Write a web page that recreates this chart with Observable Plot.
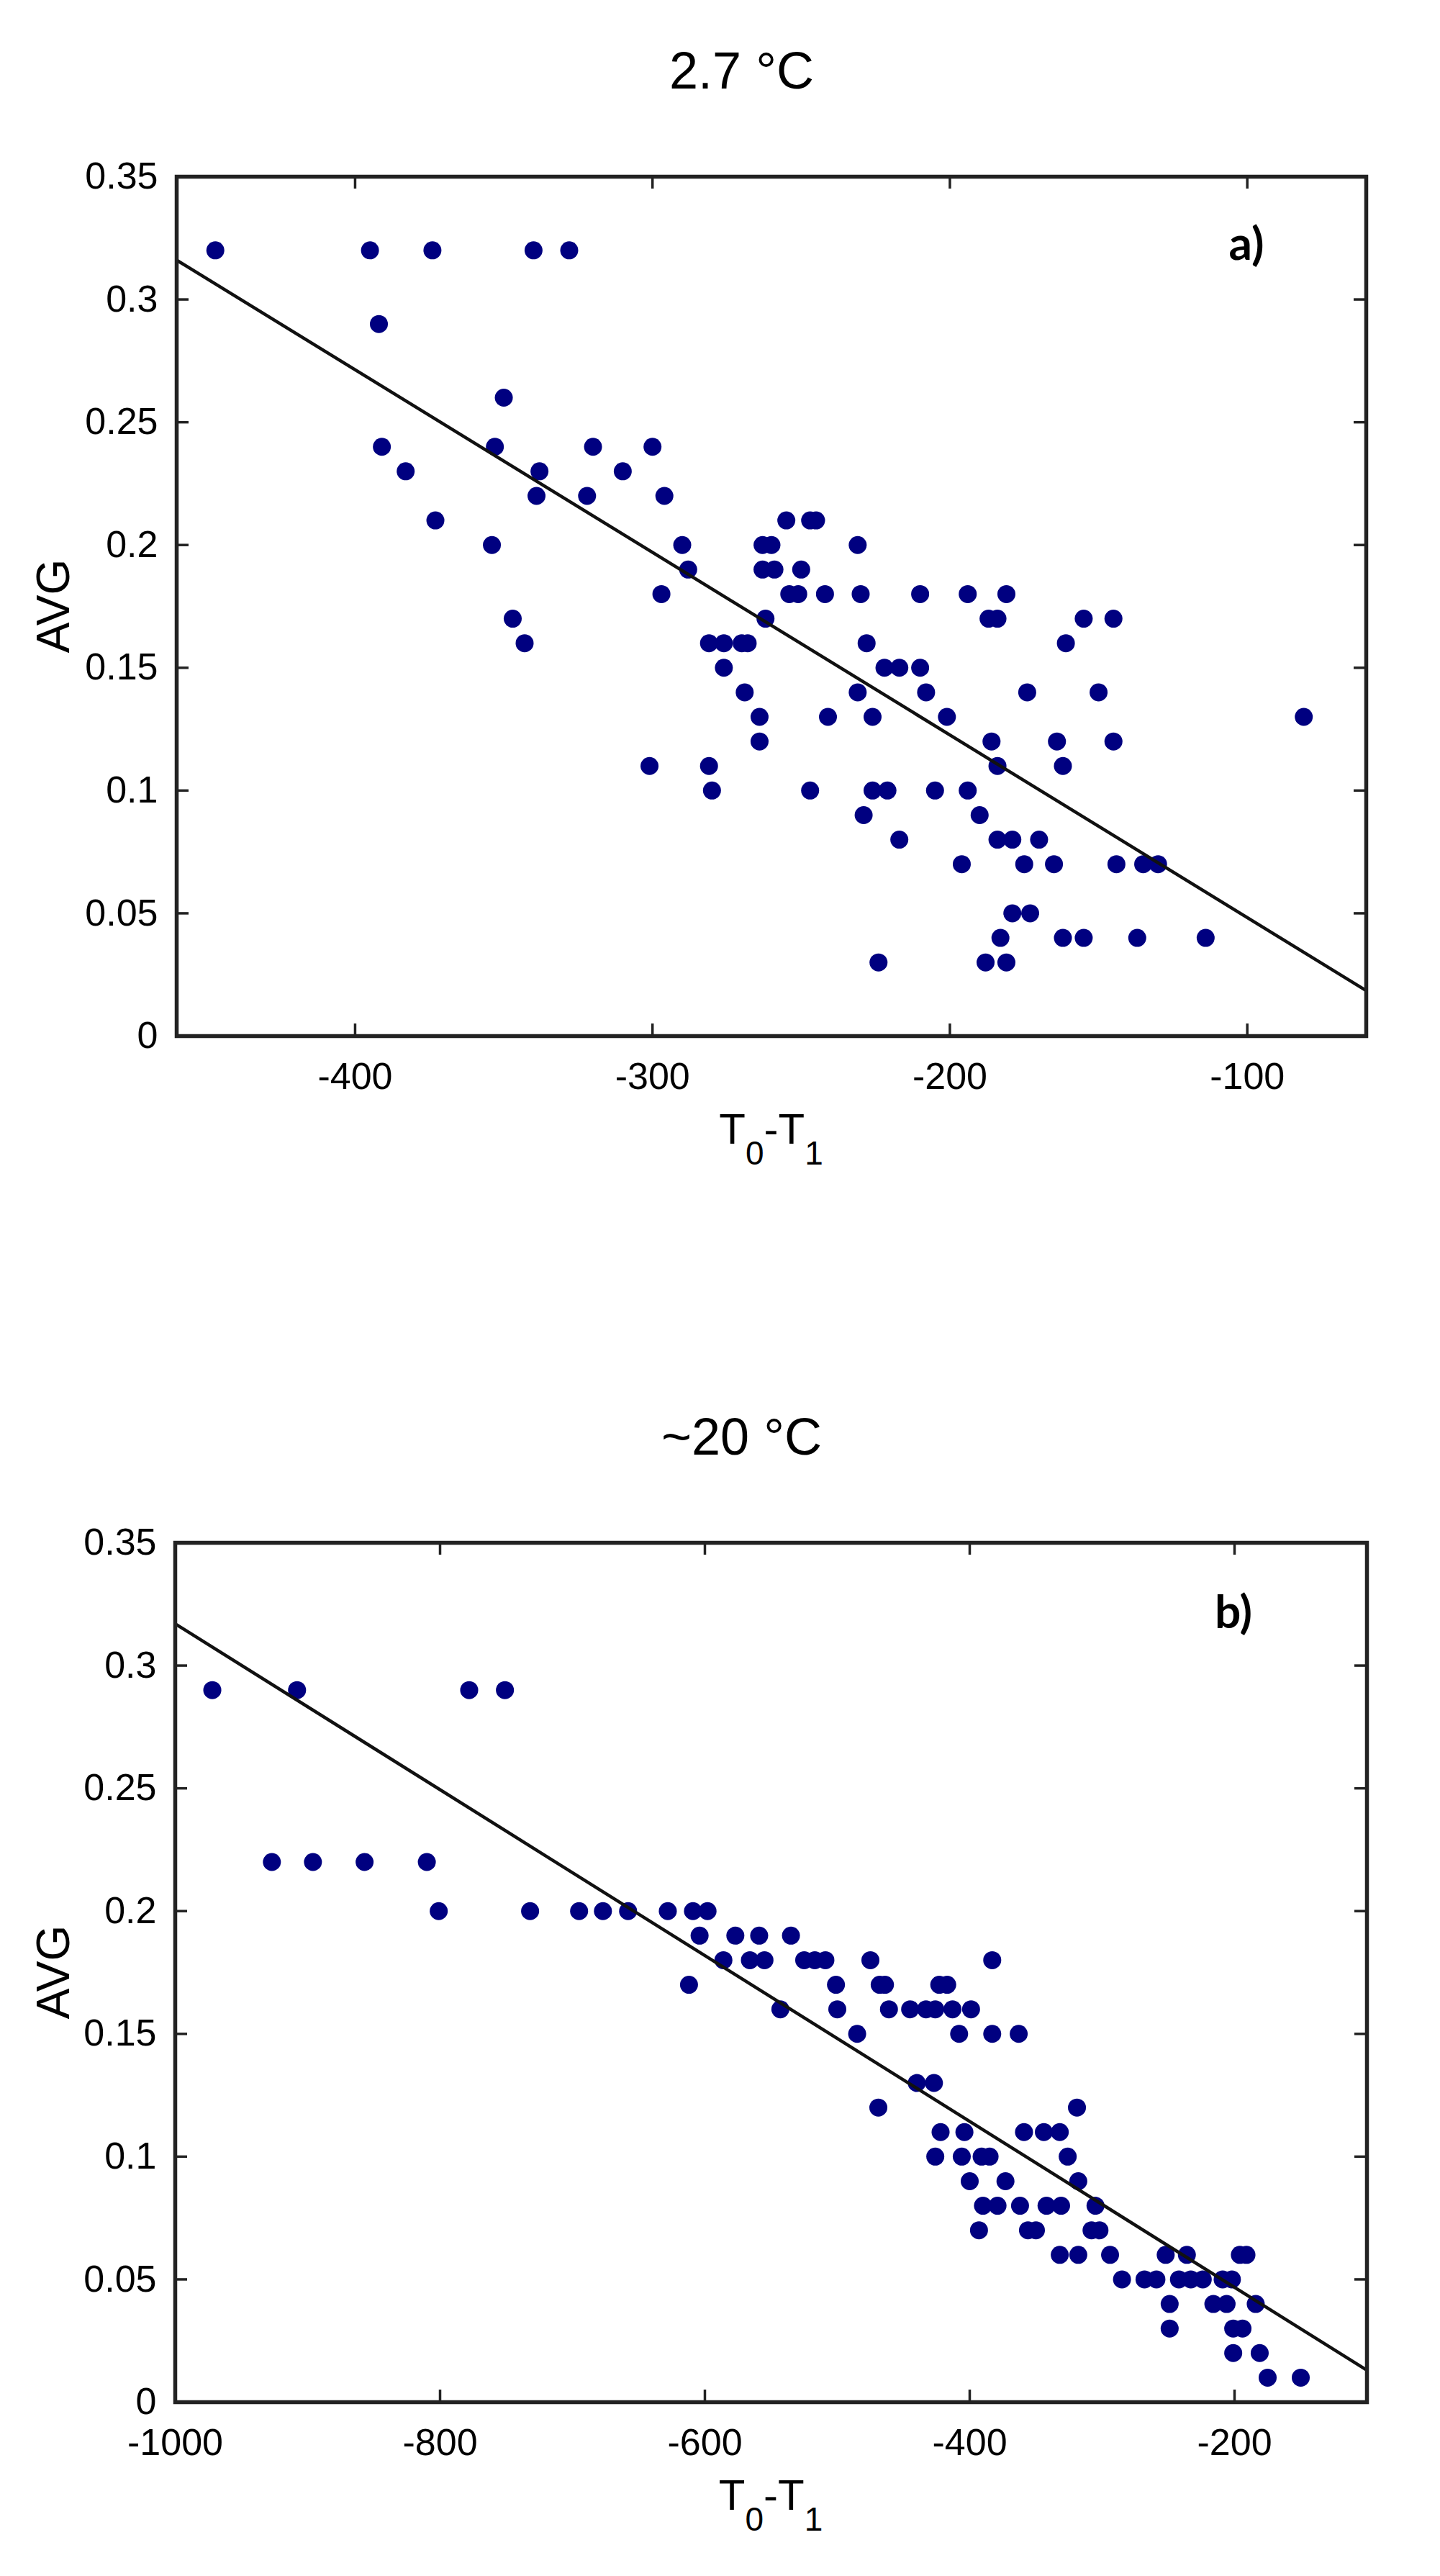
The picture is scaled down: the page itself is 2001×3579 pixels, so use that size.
<!DOCTYPE html>
<html>
<head>
<meta charset="utf-8">
<script src="https://cdn.jsdelivr.net/npm/d3@7"></script>
<script src="https://cdn.jsdelivr.net/npm/@observablehq/plot@0.6"></script>
<style>
  html, body { margin: 0; padding: 0; background: #fff; overflow: hidden; }
  #page { position: relative; width: 2001px; height: 3579px; background: #fff;
          font-family: "Liberation Sans", Arial, sans-serif; color: #000; }
  .title { position: absolute; left: 0; box-sizing: border-box; width: 2001px; padding-left: 60px;
           text-align: center; font-size: 72px; line-height: 72px; white-space: pre; }
  .panel { position: absolute; left: 0; }
  svg { display: block; }
</style>
</head>
<body>
<div id="page"></div>
<script>
// ---------------- DATA ----------------
// Panel a (2.7 °C)
const titleA = "2.7 °C";
const tagA = "a)";
const aDelta = [
  -447, -395, -374, -340, -328,
  -392,
  -350,
  -391, -353, -320, -300,
  -383, -338, -310,
  -339, -322, -296,
  -373, -255, -247, -245,
  -354, -290, -263, -260, -231,
  -288, -263, -259, -250,
  -297, -254, -251, -242, -230, -210, -194, -181,
  -347, -262, -187, -184, -155, -145,
  -343, -281, -276, -270, -268, -228, -161,
  -276, -222, -217, -210,
  -269, -231, -208, -174, -150,
  -264, -241, -226, -201, -81,
  -264, -186, -164, -145,
  -301, -281, -184, -162,
  -280, -247, -226, -221, -205, -194,
  -229, -190,
  -217, -184, -179, -170,
  -196, -175, -165, -144, -135, -130,
  -179, -173,
  -183, -162, -155, -137, -114,
  -224, -188, -181
];
const aAvg = [
  0.32, 0.32, 0.32, 0.32, 0.32,
  0.29,
  0.26,
  0.24, 0.24, 0.24, 0.24,
  0.23, 0.23, 0.23,
  0.22, 0.22, 0.22,
  0.21, 0.21, 0.21, 0.21,
  0.20, 0.20, 0.20, 0.20, 0.20,
  0.19, 0.19, 0.19, 0.19,
  0.18, 0.18, 0.18, 0.18, 0.18, 0.18, 0.18, 0.18,
  0.17, 0.17, 0.17, 0.17, 0.17, 0.17,
  0.16, 0.16, 0.16, 0.16, 0.16, 0.16, 0.16,
  0.15, 0.15, 0.15, 0.15,
  0.14, 0.14, 0.14, 0.14, 0.14,
  0.13, 0.13, 0.13, 0.13, 0.13,
  0.12, 0.12, 0.12, 0.12,
  0.11, 0.11, 0.11, 0.11,
  0.10, 0.10, 0.10, 0.10, 0.10, 0.10,
  0.09, 0.09,
  0.08, 0.08, 0.08, 0.08,
  0.07, 0.07, 0.07, 0.07, 0.07, 0.07,
  0.05, 0.05,
  0.04, 0.04, 0.04, 0.04, 0.04,
  0.03, 0.03, 0.03
];
const aXDomain = [-460, -60];
const aXTicks = [-400, -300, -200, -100];
const aFitX = [-460, -60];
const aFitY = [0.316, 0.0185];

// Panel b (~20 °C)
const titleB = "~20 °C";
const tagB = "b)";
const bDelta = [
  -972, -908, -778, -751,
  -927, -896, -857, -810,
  -801, -732, -695, -677, -658, -628, -609, -598,
  -604, -577, -559, -535,
  -586, -566, -555, -525, -517, -509, -475, -383,
  -612, -501, -468, -464, -423, -417,
  -543, -500, -461, -445, -433, -426, -413, -399,
  -485, -408, -383, -363,
  -440, -427,
  -469, -319,
  -422, -404, -359, -344, -332,
  -426, -406, -391, -385, -326,
  -400, -373, -318,
  -390, -379, -362, -342, -331, -305,
  -393, -356, -350, -308, -302,
  -332, -318, -294, -252, -236, -196, -191,
  -285, -268, -259, -242, -233, -224, -209, -202,
  -249, -216, -206, -184,
  -249, -201, -194,
  -201, -181,
  -175, -150
];
const bAvg = [
  0.29, 0.29, 0.29, 0.29,
  0.22, 0.22, 0.22, 0.22,
  0.20, 0.20, 0.20, 0.20, 0.20, 0.20, 0.20, 0.20,
  0.19, 0.19, 0.19, 0.19,
  0.18, 0.18, 0.18, 0.18, 0.18, 0.18, 0.18, 0.18,
  0.17, 0.17, 0.17, 0.17, 0.17, 0.17,
  0.16, 0.16, 0.16, 0.16, 0.16, 0.16, 0.16, 0.16,
  0.15, 0.15, 0.15, 0.15,
  0.13, 0.13,
  0.12, 0.12,
  0.11, 0.11, 0.11, 0.11, 0.11,
  0.10, 0.10, 0.10, 0.10, 0.10,
  0.09, 0.09, 0.09,
  0.08, 0.08, 0.08, 0.08, 0.08, 0.08,
  0.07, 0.07, 0.07, 0.07, 0.07,
  0.06, 0.06, 0.06, 0.06, 0.06, 0.06, 0.06,
  0.05, 0.05, 0.05, 0.05, 0.05, 0.05, 0.05, 0.05,
  0.04, 0.04, 0.04, 0.04,
  0.03, 0.03, 0.03,
  0.02, 0.02,
  0.01, 0.01
];
const bXDomain = [-1000, -100];
const bXTicks = [-1000, -800, -600, -400, -200];
const bFitX = [-1000, -100];
const bFitY = [0.317, 0.013];

// Shared
const yDomain = [0, 0.35];
const yTicks = [0, 0.05, 0.1, 0.15, 0.2, 0.25, 0.3, 0.35];
const yLabel = "AVG";

// ---------------- DRAWING ----------------
const FONT = '"Liberation Sans", Arial, sans-serif';
const page = document.getElementById("page");
const plainFormat = d => String(d);

function addTitle(text, top) {
  const d = document.createElement("div");
  d.className = "title";
  d.style.top = top + "px";
  d.textContent = text;
  page.appendChild(d);
}

function panel(opts) {
  const {xs, ys, xDomain, xTicks, fitX, fitY, tag, top, height, marginTop, marginBottom, marginLeft, marginRight, tagDx, tagDy} = opts;
  const width = 2001;
  const data = xs.map((x, i) => ({x, y: ys[i]}));
  const fit = fitX.map((x, i) => ({x, y: fitY[i]}));
  const W = width - marginLeft - marginRight;
  const H = height - marginTop - marginBottom;
  const tickLen = 17;
  const tickStyle = {stroke: "#222", strokeWidth: 3.5};

  const svg = Plot.plot({
    width, height, marginTop, marginBottom, marginLeft, marginRight,
    style: {fontFamily: FONT, fontSize: "52px", color: "#000", background: "#fff", overflow: "visible"},
    x: {domain: xDomain},
    y: {domain: yDomain},
    marks: [
      Plot.axisX({ticks: xTicks, tickFormat: plainFormat, tickSize: 0, tickPadding: 37, label: null, fontSize: 52}),
      Plot.axisY({ticks: yTicks, tickFormat: plainFormat, tickSize: 0, tickPadding: 26, label: null, fontSize: 52}),
      Plot.tickX(xTicks, {x: d => d, insetTop: H - tickLen, ...tickStyle}),
      Plot.tickX(xTicks, {x: d => d, insetBottom: H - tickLen, ...tickStyle}),
      Plot.tickY(yTicks, {y: d => d, insetRight: W - tickLen, ...tickStyle}),
      Plot.tickY(yTicks, {y: d => d, insetLeft: W - tickLen, ...tickStyle}),
      Plot.dot(data, {x: "x", y: "y", r: 12.5, fill: "#000080"}),
      Plot.line(fit, {x: "x", y: "y", stroke: "#111", strokeWidth: 4.5}),
      Plot.frame({stroke: "#222", strokeWidth: 5.5})
    ]
  });

  const s = d3.select(svg);
  // y axis label (rotated)
  const cy = marginTop + H / 2;
  s.append("text")
    .attr("x", 96).attr("y", cy)
    .attr("transform", `rotate(-90, 96, ${cy})`)
    .attr("text-anchor", "middle")
    .attr("font-family", FONT)
    .attr("font-size", 64)
    .attr("fill", "#000")
    .text(yLabel);
  // x axis label T0-T1 with subscripts
  const xl = s.append("text")
    .attr("x", marginLeft + W / 2).attr("y", marginTop + H + 150)
    .attr("text-anchor", "middle")
    .attr("font-family", FONT)
    .attr("font-size", 60)
    .attr("fill", "#000");
  xl.append("tspan").text("T");
  xl.append("tspan").attr("font-size", 46).attr("dy", 29).text("0");
  xl.append("tspan").attr("dy", -29).text("-T");
  xl.append("tspan").attr("font-size", 46).attr("dy", 29).text("1");
  // panel tag
  s.append("text")
    .attr("x", marginLeft + W + tagDx).attr("y", marginTop + tagDy)
    .attr("text-anchor", "middle")
    .attr("font-family", "Lato, 'Open Sans', sans-serif")
    .attr("font-weight", "bold")
    .attr("font-size", 64)
    .attr("fill", "#000")
    .text(tag);

  const wrap = document.createElement("div");
  wrap.className = "panel";
  wrap.style.top = top + "px";
  wrap.appendChild(svg);
  page.appendChild(wrap);
}

addTitle(titleA, 62);
panel({xs: aDelta, ys: aAvg, xDomain: aXDomain, xTicks: aXTicks, fitX: aFitX, fitY: aFitY, tag: tagA,
       top: 200, height: 1590, marginTop: 45, marginBottom: 351, marginLeft: 245, marginRight: 103,
       tagDx: -166, tagDy: 116});

addTitle(titleB, 1960);
panel({xs: bDelta, ys: bAvg, xDomain: bXDomain, xTicks: bXTicks, fitX: bFitX, fitY: bFitY, tag: tagB,
       top: 2100, height: 1479, marginTop: 43, marginBottom: 242, marginLeft: 243, marginRight: 102,
       tagDx: -185, tagDy: 119});
</script>
</body>
</html>
